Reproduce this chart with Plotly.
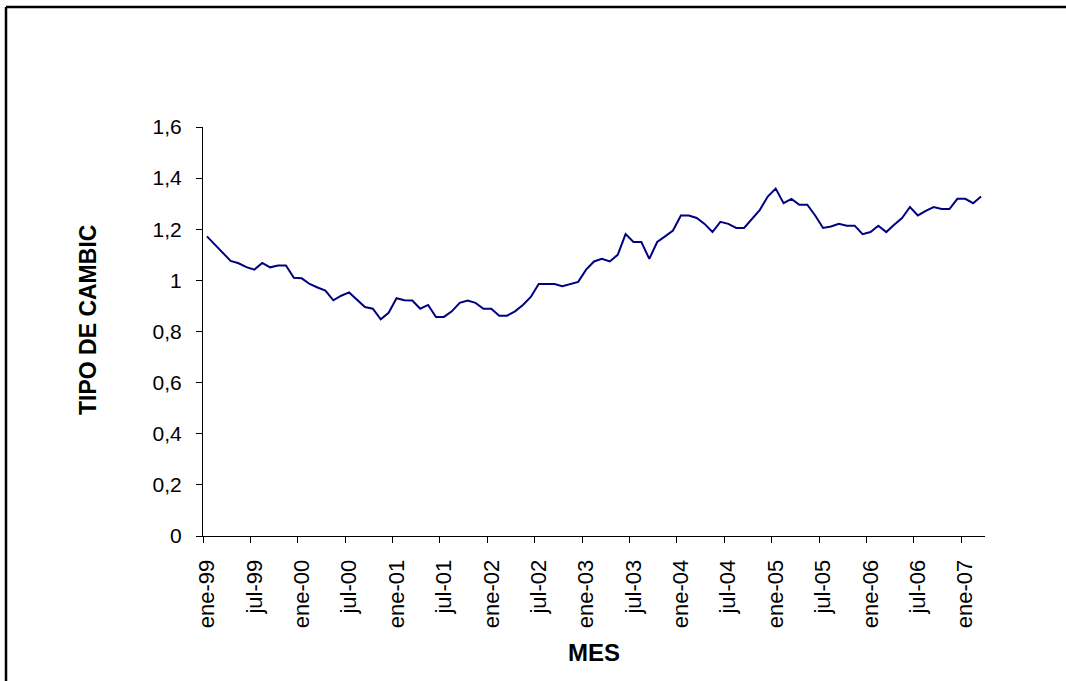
import plotly.graph_objects as go

# Monthly exchange rate, Jan 1999 - Mar 2007
rate_1999 = [1.172, 1.139, 1.110, 1.076, 1.067, 1.052, 1.042, 1.068, 1.051, 1.058, 1.058, 1.010]
rate_2000 = [1.008, 0.986, 0.972, 0.960, 0.922, 0.940, 0.953, 0.925, 0.896, 0.889, 0.848, 0.873]
rate_2001 = [0.930, 0.922, 0.921, 0.889, 0.904, 0.857, 0.857, 0.879, 0.912, 0.921, 0.912, 0.889]
rate_2002 = [0.889, 0.862, 0.862, 0.879, 0.904, 0.935, 0.986, 0.986, 0.986, 0.977, 0.987, 0.994]
rate_2003 = [1.042, 1.074, 1.084, 1.074, 1.100, 1.181, 1.150, 1.150, 1.084, 1.150, 1.172, 1.195]
rate_2004 = [1.254, 1.254, 1.244, 1.221, 1.189, 1.229, 1.221, 1.205, 1.205, 1.241, 1.276, 1.328]
rate_2005 = [1.359, 1.302, 1.319, 1.296, 1.296, 1.254, 1.205, 1.211, 1.221, 1.214, 1.214, 1.181]
rate_2006 = [1.189, 1.214, 1.189, 1.218, 1.244, 1.287, 1.254, 1.272, 1.287, 1.279, 1.279, 1.319]
rate_2007 = [1.319, 1.302, 1.328]

tick_labels = ["ene-99", "jul-99", "ene-00", "jul-00", "ene-01", "jul-01",
               "ene-02", "jul-02", "ene-03", "jul-03", "ene-04", "jul-04",
               "ene-05", "jul-05", "ene-06", "jul-06", "ene-07"]

y_title = "TIPO DE CAMBIC"
x_title = "MES"

rates = (rate_1999 + rate_2000 + rate_2001 + rate_2002 + rate_2003 +
         rate_2004 + rate_2005 + rate_2006 + rate_2007)
months = list(range(len(rates)))

# category boundaries every six months carry the ticks
tick_pos = [6 * k - 0.5 for k in range(len(tick_labels))]

fig = go.Figure()
fig.add_trace(go.Scatter(
    x=months, y=rates, mode="lines",
    line=dict(color="#000080", width=2),
    showlegend=False,
))

W, H = 1066, 681
L, R, T, B = 203, 81, 127, 145
pw, ph = W - L - R, H - T - B

fig.update_layout(
    width=W, height=H,
    margin=dict(l=L, r=R, t=T, b=B, pad=0),
    paper_bgcolor="white", plot_bgcolor="white",
    separators=", ",
    font=dict(family="Liberation Sans", size=21, color="black"),
)

fig.update_xaxes(
    range=[-0.5, len(rates) - 0.5],
    tickmode="array", tickvals=tick_pos, ticktext=tick_labels,
    tickangle=-90, ticks="outside", ticklen=6, tickwidth=1, tickcolor="black",
    ticklabelshift=4, ticklabelstandoff=8,
    showline=True, linecolor="black", linewidth=1,
    showgrid=False, zeroline=False,
    tickfont=dict(family="Liberation Sans", size=22, color="black"),
)
fig.update_yaxes(
    range=[0, 1.6], dtick=0.2, tick0=0,
    ticks="outside", ticklen=6, tickwidth=1, tickcolor="black",
    ticklabelstandoff=10,
    showline=True, linecolor="black", linewidth=1,
    showgrid=False, zeroline=False,
    tickfont=dict(family="Liberation Sans", size=21, color="black"),
)

# axis titles
fig.add_annotation(
    text=y_title, textangle=-90, showarrow=False,
    xref="paper", yref="paper", x=0, y=(H - B - 320) / ph,
    xanchor="center", yanchor="middle", xshift=88 - L,
    font=dict(family="Liberation Sans", size=23, color="black", weight="bold"),
)
fig.add_annotation(
    text=x_title, showarrow=False,
    xref="paper", yref="paper", x=0.5, y=0,
    xanchor="center", yanchor="middle", yshift=-(652 - (H - B)),
    font=dict(family="Liberation Sans", size=24, color="black", weight="bold"),
)

# outer chart frame (left and top edges)
fx = (6 - L) / pw
fy = (H - B - 7) / ph
fig.add_shape(type="line", xref="paper", yref="paper",
              x0=fx, x1=fx, y0=fy, y1=-1, line=dict(color="black", width=2.5))
fig.add_shape(type="line", xref="paper", yref="paper",
              x0=fx, x1=1.5, y0=fy, y1=fy, line=dict(color="black", width=2.5))

fig.write_html("out.html")
